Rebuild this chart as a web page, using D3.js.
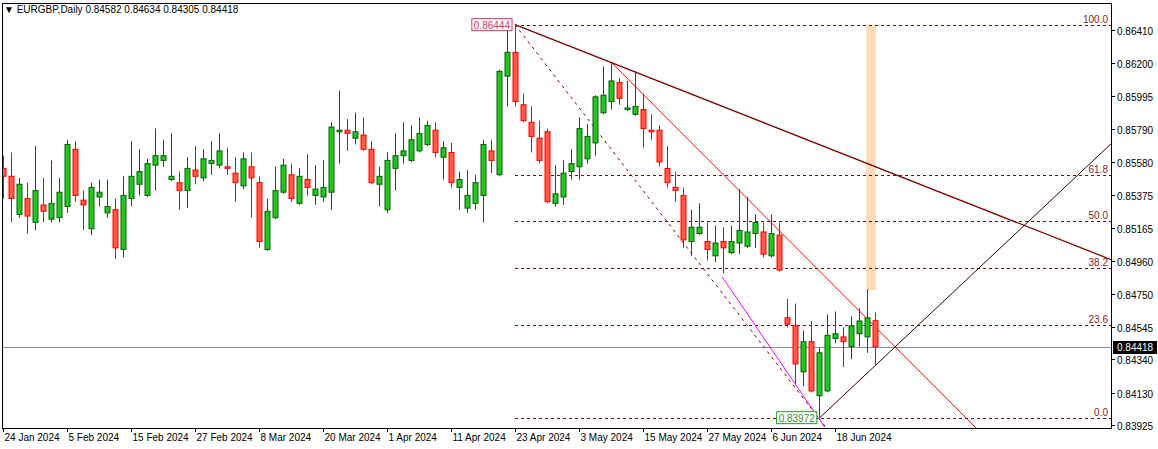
<!DOCTYPE html>
<html><head><meta charset="utf-8">
<script src="https://cdn.jsdelivr.net/npm/d3@7"></script>
<style>body{margin:0;background:#fff}svg{display:block;font-family:"Liberation Sans",Arial,sans-serif}</style>
</head><body>
<script>
// OHLC in pips (x 0.0001)
const opens =[8554,8549,8525,8535,8520,8531,8522,8523,8530,8566,8534,8516,8536,8526,8528,8503,8535,8544,8537,8556,8559,8547,8545,8540,8553,8548,8557,8556,8555,8551,8543,8555,8545,8503,8523,8539,8550,8532,8547,8537,8536,8539,8577,8578,8573,8575,8566,8544,8528,8554,8562,8559,8565,8569,8578,8561,8564,8542,8529,8532,8537,8565,8550,8612,8627,8594,8583,8573,8577,8532,8536,8552,8555,8560,8570,8589,8596,8608,8591,8588,8591,8578,8578,8554,8542,8537,8508,8513,8508,8499,8508,8501,8507,8505,8513,8514,8499,8512,8460,8455,8426,8445,8411,8414,8447,8448,8442,8450,8448,8458.2];
const highs =[8562,8564,8548,8545,8568,8548,8559,8548,8572,8571,8540,8545,8547,8547,8535,8549,8571,8566,8560,8579,8572,8576,8552,8561,8568,8566,8571,8576,8567,8561,8564,8564,8549,8535,8555,8560,8557,8554,8563,8556,8559,8583,8603,8585,8589,8586,8571,8555,8564,8576,8583,8581,8586,8584,8583,8571,8570,8552,8553,8550,8572,8572,8616,8644.4,8644,8601,8593,8584,8579,8556,8559,8566,8586,8582,8600,8618,8621,8611,8609,8615,8601,8588,8581,8568,8552,8542,8528,8532,8520,8518,8517,8518,8541,8536,8525,8520,8525,8520,8472,8469,8452,8458,8441,8462,8464,8454,8461,8466,8478,8463.4];
const lows  =[8535,8520,8523,8513,8515,8520,8520,8520,8526,8533,8515,8512,8530,8523,8497,8498,8530,8537,8536,8540,8555,8546,8528,8529,8544,8546,8550,8554,8550,8533,8541,8523,8504,8502,8522,8538,8533,8531,8537,8531,8533,8528,8557,8565,8569,8565,8544,8530,8526,8540,8557,8558,8564,8568,8561,8547,8542,8528,8526,8528,8520,8551,8549,8593,8593,8583,8564,8557,8532,8530,8531,8547,8547,8557,8562,8588,8591,8594,8590,8587,8567,8572,8555,8542,8533,8504,8499,8512,8496,8495,8488,8500,8500,8504,8504,8498,8498,8489,8454,8418,8417,8413,8397.2,8413,8444,8429,8434,8442,8438,8430.5];
const closes=[8549,8535,8544,8524,8540,8527,8532,8539,8569,8537,8531,8542,8539,8530,8504,8537,8549,8552,8557,8562,8562,8549,8540,8554,8549,8560,8559,8565,8554,8545,8560,8548,8508,8527,8540,8556,8535,8549,8542,8541,8542,8580,8578,8576,8577,8566,8545,8549,8559,8562,8565,8572,8576,8581,8564,8567,8545,8547,8537,8545,8569,8559,8615,8627,8596,8584,8574,8559,8533,8538,8551,8557,8579,8574,8599,8600,8609,8598,8592,8593,8579,8577,8558,8545,8540,8509,8517,8517,8503,8507,8504,8508,8515,8514,8520,8500,8513,8490,8456,8431,8445,8414,8438,8449,8450,8445,8455,8458,8460,8441.8];
const dateLabels=["24 Jan 2024","5 Feb 2024","15 Feb 2024","27 Feb 2024","8 Mar 2024","20 Mar 2024","1 Apr 2024","11 Apr 2024","23 Apr 2024","3 May 2024","15 May 2024","27 May 2024","6 Jun 2024","18 Jun 2024"];
const priceTicks=[0.86410,0.86200,0.85995,0.85790,0.85580,0.85375,0.85165,0.84960,0.84750,0.84545,0.84340,0.84130,0.83925];
const fibLevels=[0,23.6,38.2,50,61.8,100];
const fibLabels=["0.0","23.6","38.2","50.0","61.8","100.0"];
const fibHigh=0.86444, fibLow=0.83972, fibStart=64;
const lastPrice=0.84418;
// trend lines [i1,p1,i2,p2]
const trendMaroon=[64,0.86444,138.6,0.84964];
const trendRed=[76.1,0.86203,121.9,0.83894];
const trendDiag=[64,0.86444,102.8,0.83915];
const trendMagenta=[89.9,0.84857,102.7,0.83913];
const trendRise=[102.1,0.83972,138.6,0.85699];
const peachBox=[107.9,109.1,0.86444,0.84775];

const W=1158,H=449,L=2,R=1111,T=3,B=428;
const svg=d3.select("body").append("svg").attr("width",W).attr("height",H);
const x=d3.scaleLinear().domain([0,109]).range([3,875]);
const y=d3.scaleLinear().domain([0.838944,0.865990]).range([430,0]);
const P=v=>v/10000;
svg.append("clipPath").attr("id","c").append("rect").attr("x",L).attr("y",T).attr("width",R-L).attr("height",B-T);
const plot=svg.append("g").attr("clip-path","url(#c)");

plot.append("rect").attr("x",x(peachBox[0])).attr("width",x(peachBox[1])-x(peachBox[0]))
 .attr("y",y(peachBox[2])).attr("height",y(peachBox[3])-y(peachBox[2])).attr("fill","#ffdab9");
plot.append("line").attr("x1",L).attr("x2",R).attr("y1",Math.round(y(lastPrice))+0.5).attr("y2",Math.round(y(lastPrice))+0.5).attr("stroke","#8090a0").attr("stroke-width",1);
fibLevels.forEach((f,k)=>{
  const p=fibLow+(fibHigh-fibLow)*f/100, yy=Math.round(y(p))+0.5;
  plot.append("line").attr("x1",x(fibStart)).attr("x2",R).attr("y1",yy).attr("y2",yy).attr("stroke","#8b0000").attr("stroke-dasharray","3,3");
  svg.append("text").attr("x",1108).attr("y",yy-3).attr("text-anchor","end").attr("font-size",10).attr("fill","#8b1a2a").text(fibLabels[k]);
});
function seg(t,color,dash,w){
  plot.append("line").attr("x1",x(t[0])).attr("y1",y(t[1])).attr("x2",x(t[2])).attr("y2",y(t[3]))
   .attr("stroke",color).attr("stroke-width",w||1).attr("stroke-dasharray",dash||null);
}
seg(trendMaroon,"#800000",null,1.3);
seg(trendRed,"#ff0000");
seg(trendDiag,"#8b0000","3,4");
seg(trendMagenta,"#ff00ff");
seg(trendRise,"#300000");

const idx=d3.range(opens.length);
plot.selectAll(".w").data(idx).enter().append("line")
 .attr("x1",i=>Math.round(x(i))+0.5).attr("x2",i=>Math.round(x(i))+0.5)
 .attr("y1",i=>y(P(highs[i]))).attr("y2",i=>y(P(lows[i])))
 .attr("stroke",i=>closes[i]>=opens[i]?"#006400":"#ff0000");
plot.selectAll(".b").data(idx).enter().append("rect")
 .attr("x",i=>Math.round(x(i))-2).attr("width",5)
 .attr("y",i=>y(P(Math.max(opens[i],closes[i])))).attr("height",i=>Math.max(1,Math.abs(y(P(opens[i]))-y(P(closes[i])))))
 .attr("fill",i=>closes[i]>=opens[i]?"#22c322":"#ff5a46")
 .attr("stroke",i=>closes[i]>=opens[i]?"#006400":"#ff0000");

svg.append("rect").attr("x",L+0.5).attr("y",T+0.5).attr("width",R-L).attr("height",B-T).attr("fill","none").attr("stroke","#000");
priceTicks.forEach(p=>{
  const yy=Math.round(y(p))+0.5;
  svg.append("line").attr("x1",R).attr("x2",R+4).attr("y1",yy).attr("y2",yy).attr("stroke","#000");
  svg.append("text").attr("x",R+6).attr("y",yy+4).attr("font-size",10).attr("fill","#000").text(p.toFixed(5));
});
const ly=Math.round(y(lastPrice));
svg.append("rect").attr("x",R+2).attr("y",ly-6).attr("width",44).attr("height",13).attr("fill","#000");
svg.append("text").attr("x",R+6).attr("y",ly+4).attr("font-size",10).attr("fill","#fff").text(lastPrice.toFixed(5));
dateLabels.forEach((d,k)=>{
  const xx=Math.round(x(k*8))+0.5;
  svg.append("line").attr("x1",xx).attr("x2",xx).attr("y1",B).attr("y2",B+4).attr("stroke","#000");
  svg.append("text").attr("x",xx+1).attr("y",441).attr("font-size",10).attr("fill","#000").text(d);
});
function tag(i,p,col,bg){
  const t=svg.append("text").attr("font-size",10).attr("fill",col).text(p.toFixed(5));
  const w=t.node().getComputedTextLength()+4;
  const xx=x(i)-w-3, yy=y(p);
  svg.insert("rect","text:last-of-type").attr("x",xx).attr("y",yy-6).attr("width",w).attr("height",12).attr("fill","#fff").attr("stroke",bg);
  t.attr("x",xx+2).attr("y",yy+4);
}
tag(64,fibHigh,"#e0305a","#e0305a");
tag(102.1,fibLow,"#3a8a3a","#2a9a2a");
svg.append("text").attr("x",4).attr("y",13).attr("font-size",10).attr("fill","#000").text("▼ EURGBP,Daily  0.84582 0.84634 0.84305 0.84418");
</script>
</body></html>
